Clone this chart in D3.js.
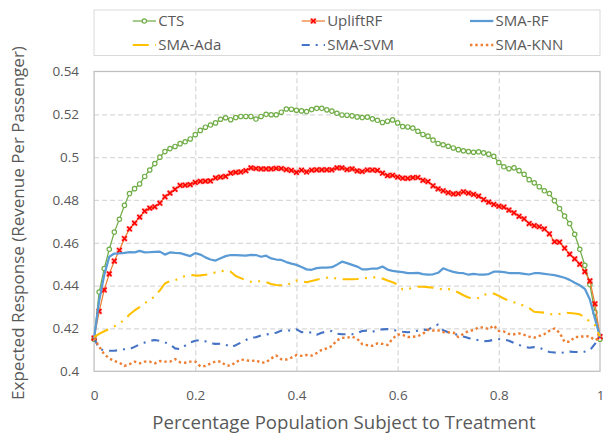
<!DOCTYPE html>
<html><head><meta charset="utf-8">
<script src="https://cdn.jsdelivr.net/npm/d3@7"></script>
<style>body{margin:0;background:#fff}svg{display:block}text{font-family:"Open Sans",sans-serif}</style>
</head><body><svg id="c" width="605" height="433"></svg>
<script>
// x positions: fraction of population treated, 0 .. 1 in steps of 0.01
const xValues = d3.range(101).map(i => i / 100);

const seriesNames = ["CTS", "UpliftRF", "SMA-RF", "SMA-Ada", "SMA-SVM", "SMA-KNN"];

const ctsValues = [0.415,0.437,0.448,0.457,0.465,0.471,0.4775,0.483,0.4853,0.4875,
0.491,0.494,0.497,0.500,0.5026,0.504,0.505,0.5063,0.5072,0.5085,
0.5105,0.5125,0.514,0.515,0.516,0.5177,0.5184,0.5175,0.5185,0.519,
0.519,0.519,0.5178,0.519,0.520,0.5198,0.5198,0.521,0.5225,0.5224,
0.5219,0.5216,0.5213,0.5222,0.5228,0.5228,0.5221,0.5215,0.5205,0.5197,
0.5196,0.5193,0.5188,0.5185,0.5187,0.5179,0.5172,0.5162,0.5168,0.5174,
0.516,0.5143,0.5141,0.5136,0.5121,0.5106,0.5098,0.508,0.5064,0.5058,
0.5051,0.5043,0.5035,0.503,0.5026,0.5023,0.5025,0.502,0.5014,0.5004,
0.4975,0.4955,0.4946,0.495,0.4937,0.492,0.4895,0.488,0.4862,0.4843,
0.483,0.4797,0.476,0.4725,0.469,0.464,0.457,0.4495,0.4405,0.4275,0.415];

const upliftValues = [0.4155,0.428,0.438,0.4455,0.4515,0.4565,0.462,0.4665,0.4692,0.472,
0.4748,0.4762,0.4768,0.4785,0.4815,0.4832,0.485,0.4868,0.4869,0.4872,
0.4882,0.4887,0.4888,0.4889,0.4903,0.4907,0.491,0.4925,0.4929,0.4931,
0.4937,0.495,0.4947,0.4945,0.4945,0.4945,0.4948,0.4947,0.4942,0.4938,
0.4929,0.4939,0.4931,0.4939,0.4941,0.4941,0.4941,0.4941,0.495,0.495,
0.4942,0.4945,0.4936,0.4933,0.494,0.494,0.4938,0.4925,0.4914,0.4915,
0.4907,0.4902,0.4901,0.4904,0.4905,0.4892,0.4886,0.4866,0.4852,0.4843,
0.4834,0.4828,0.483,0.4838,0.4832,0.4826,0.4818,0.4802,0.479,0.4779,
0.4771,0.4767,0.4753,0.474,0.4724,0.4712,0.469,0.468,0.4675,0.4665,
0.4642,0.4605,0.4603,0.4575,0.4547,0.4525,0.45,0.4465,0.4422,0.4315,0.4162];

const rfValues = [0.4155,0.433,0.445,0.4535,0.455,0.4551,0.4553,0.4557,0.4555,0.4562,
0.4555,0.4556,0.4558,0.4559,0.4545,0.4555,0.4553,0.4552,0.4545,0.4538,
0.4552,0.4545,0.4532,0.4522,0.4517,0.4528,0.4538,0.4543,0.4542,0.4541,
0.454,0.4544,0.4543,0.4535,0.454,0.4527,0.4522,0.452,0.451,0.4503,
0.4497,0.4487,0.4476,0.4474,0.4482,0.4484,0.4484,0.4486,0.4498,0.4512,
0.4505,0.4497,0.4489,0.4476,0.4476,0.448,0.448,0.4489,0.4475,0.4469,
0.4466,0.4463,0.4458,0.4458,0.446,0.4454,0.4451,0.4453,0.446,0.4481,
0.4472,0.4464,0.446,0.4458,0.4451,0.4455,0.4452,0.4451,0.4454,0.4465,
0.4465,0.4463,0.4459,0.4459,0.4458,0.4455,0.4452,0.4458,0.4458,0.4455,
0.4452,0.4449,0.4443,0.4437,0.4427,0.4414,0.4402,0.4385,0.4335,0.4245,0.4162];

const adaValues = [0.416,0.4175,0.4187,0.4198,0.421,0.4224,0.424,0.4265,0.4284,0.43,
0.4318,0.4332,0.435,0.4378,0.441,0.4422,0.4425,0.4436,0.4445,0.445,
0.4447,0.4448,0.4451,0.4455,0.4462,0.4467,0.447,0.4465,0.4445,0.4435,
0.4425,0.4418,0.4421,0.442,0.4416,0.4408,0.4403,0.4402,0.44,0.4415,
0.4424,0.4421,0.4416,0.4422,0.4428,0.4434,0.4437,0.4438,0.4432,0.443,
0.443,0.443,0.4431,0.4434,0.4436,0.4439,0.4438,0.4433,0.4424,0.4416,
0.4405,0.4382,0.4384,0.439,0.4395,0.4395,0.4393,0.439,0.4385,0.4383,
0.4384,0.4378,0.4368,0.4355,0.4345,0.4338,0.4342,0.4357,0.4362,0.4363,
0.4352,0.434,0.4329,0.4322,0.4315,0.4305,0.4295,0.4278,0.4276,0.4274,
0.4267,0.4266,0.4268,0.4274,0.4272,0.427,0.4266,0.4252,0.4232,0.4215,0.416];

const svmValues = [0.4155,0.4105,0.4098,0.4096,0.4096,0.4099,0.4103,0.4104,0.4114,0.4126,
0.4134,0.4142,0.4146,0.4142,0.4135,0.4126,0.4107,0.4103,0.412,0.4135,
0.4143,0.4146,0.414,0.4131,0.4128,0.4129,0.4125,0.4112,0.4122,0.4134,
0.4146,0.4157,0.4159,0.4168,0.4172,0.4175,0.418,0.419,0.4191,0.419,
0.4196,0.4183,0.418,0.4182,0.4171,0.418,0.4186,0.4188,0.4176,0.4173,
0.4173,0.4173,0.4178,0.4188,0.419,0.4184,0.4193,0.4196,0.4197,0.4193,
0.4189,0.4185,0.4182,0.4186,0.419,0.4195,0.4193,0.421,0.4218,0.4192,
0.4182,0.4175,0.417,0.4162,0.4155,0.415,0.4145,0.414,0.4142,0.4147,
0.415,0.4148,0.4143,0.4132,0.4123,0.4115,0.411,0.4113,0.411,0.41,
0.409,0.4088,0.4085,0.4088,0.4092,0.409,0.409,0.4092,0.4098,0.4128,0.4162];

const knnValues = [0.4155,0.4115,0.408,0.406,0.4048,0.404,0.4025,0.4033,0.4045,0.4037,
0.4045,0.4045,0.4037,0.4048,0.4045,0.4045,0.4057,0.4042,0.404,0.4045,
0.4045,0.4023,0.4025,0.4036,0.4046,0.4046,0.4028,0.4026,0.4042,0.4055,
0.4052,0.4048,0.4051,0.404,0.4042,0.406,0.4074,0.4056,0.4055,0.4064,
0.4076,0.4072,0.4076,0.4073,0.4085,0.41,0.4107,0.4118,0.4145,0.4156,
0.4157,0.4162,0.4152,0.4127,0.4122,0.4119,0.413,0.4128,0.4123,0.4152,
0.4172,0.417,0.416,0.4161,0.4164,0.4175,0.4194,0.419,0.4191,0.4183,
0.4182,0.4182,0.416,0.4175,0.4188,0.4192,0.4205,0.4205,0.4197,0.4214,
0.4188,0.4186,0.4174,0.4173,0.4177,0.417,0.4162,0.4157,0.4165,0.4174,
0.4189,0.42,0.418,0.4138,0.4138,0.416,0.416,0.4165,0.4162,0.4145,0.4157];

const yTickValues = [0.40,0.42,0.44,0.46,0.48,0.50,0.52,0.54];
const yTickLabels = ["0.4","0.42","0.44","0.46","0.48","0.5","0.52","0.54"];
const xTickValues = [0,0.2,0.4,0.6,0.8,1];
const xTickLabels = ["0","0.2","0.4","0.6","0.8","1"];

const xTitle = "Percentage Population Subject to Treatment";
const yTitle = "Expected Response (Revenue Per Passenger)";

const svg = d3.select("#c");
const L = 94.1, R = 600, T = 71.5, B = 371.3;
const x = d3.scaleLinear().domain([0,1]).range([L,R]);
const y = d3.scaleLinear().domain([0.40,0.54]).range([B,T]);

// gridlines
svg.append("g").attr("transform",`translate(${L},0)`)
  .call(d3.axisLeft(y).tickValues(yTickValues.slice(1,-1)).tickSize(-(R-L)).tickFormat(""))
  .call(g=>g.select(".domain").remove())
  .selectAll("line").attr("stroke","#D9D9D9").attr("stroke-width",1.25).attr("stroke-dasharray","5,3");
svg.append("g").attr("transform",`translate(0,${B})`)
  .call(d3.axisBottom(x).tickValues(xTickValues.slice(1,-1)).tickSize(-(B-T)).tickFormat(""))
  .call(g=>g.select(".domain").remove())
  .selectAll("line").attr("stroke","#D9D9D9").attr("stroke-width",1.25).attr("stroke-dasharray","5,3");

// plot border
svg.append("rect").attr("x",L).attr("y",T).attr("width",R-L).attr("height",B-T)
  .attr("fill","none").attr("stroke","#BFBFBF").attr("stroke-width",1.25);

// tick labels
svg.append("g").attr("transform",`translate(${L},0)`)
  .call(d3.axisLeft(y).tickValues(yTickValues).tickSize(0).tickPadding(15)
    .tickFormat((d,i)=>yTickLabels[i]))
  .call(g=>g.select(".domain").remove())
  .selectAll("text").attr("fill","#595959").style("font-size","13.5px").style("font-family","'Open Sans',sans-serif");
svg.append("g").attr("transform",`translate(0,${B})`)
  .call(d3.axisBottom(x).tickValues(xTickValues).tickSize(0).tickPadding(19)
    .tickFormat((d,i)=>xTickLabels[i]))
  .call(g=>g.select(".domain").remove())
  .selectAll("text").attr("fill","#595959").style("font-size","13.5px").style("font-family","'Open Sans',sans-serif");

// axis titles
svg.append("text").attr("x",344).attr("y",429).attr("text-anchor","middle")
  .attr("fill","#595959").style("font-size","18.6px").text(xTitle);
svg.append("text").attr("transform","translate(24,223) rotate(-90)").attr("text-anchor","middle")
  .attr("fill","#595959").style("font-size","17px").text(yTitle);

const styles = [
  {name:seriesNames[0], vals:ctsValues,   color:"#70AD47", w:1.25, dash:null, marker:"circle"},
  {name:seriesNames[1], vals:upliftValues,color:"#ED7D31", w:1.25, dash:null, marker:"x"},
  {name:seriesNames[2], vals:rfValues,    color:"#5B9BD5", w:2.25, dash:null},
  {name:seriesNames[3], vals:adaValues,   color:"#FFC000", w:2.1, dash:"16,6.5,2,6.3,2,6.5"},
  {name:seriesNames[4], vals:svmValues,   color:"#4472C4", w:2.1, dash:"8,6,2,6"},
  {name:seriesNames[5], vals:knnValues,   color:"#ED7D31", w:2.4, dash:"2.4,2.9"}
];

const line = d3.line().x(d=>x(d[0])).y(d=>y(d[1]));

function drawMarker(g, type, cx, cy){
  if(type==="circle"){
    g.append("circle").attr("cx",cx).attr("cy",cy).attr("r",2.2)
      .attr("fill","#fff").attr("stroke","#70AD47").attr("stroke-width",1.2);
  } else if(type==="x"){
    g.append("rect").attr("x",cx-3).attr("y",cy-3).attr("width",6).attr("height",6)
      .attr("fill","#FF0000").attr("opacity",0.22);
    g.append("path").attr("d",`M${cx-2.3},${cy-2.3}L${cx+2.3},${cy+2.3}M${cx+2.3},${cy-2.3}L${cx-2.3},${cy+2.3}`)
      .attr("stroke","#FF0000").attr("stroke-width",1.6).attr("fill","none");
  }
}

styles.forEach(s=>{
  const pts = xValues.map((xv,i)=>[xv,s.vals[i]]);
  const g = svg.append("g");
  g.append("path").attr("d",line(pts)).attr("fill","none").attr("stroke",s.color)
    .attr("stroke-width",s.w).attr("stroke-dasharray",s.dash).attr("stroke-linejoin","round");
  if(s.marker){ pts.forEach(p=>drawMarker(g,s.marker,x(p[0]),y(p[1]))); }
});

// legend
svg.append("rect").attr("x",94).attr("y",10).attr("width",506).attr("height",45.5)
  .attr("fill","#fff").attr("stroke","#D9D9D9").attr("stroke-width",1);
const legPos = [[132.7,21],[301.7,21],[470,21],[132.7,45],[301.7,45],[470,45]];
styles.forEach((s,i)=>{
  const [lx,ly] = legPos[i];
  const g = svg.append("g");
  g.append("line").attr("x1",lx).attr("x2",lx+23.3).attr("y1",ly).attr("y2",ly)
    .attr("stroke",s.color).attr("stroke-width",s.w).attr("stroke-dasharray",s.dash);
  if(s.marker) drawMarker(g,s.marker,lx+11.6,ly);
  g.append("text").attr("x",lx+25.5).attr("y",ly).attr("dy","0.35em")
    .attr("fill","#595959").style("font-size","15px").text(s.name);
});
</script></body></html>
